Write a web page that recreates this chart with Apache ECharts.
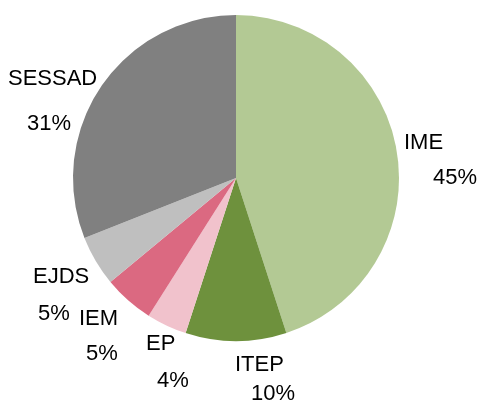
<!DOCTYPE html>
<html>
<head>
<meta charset="utf-8">
<style>
  html, body { margin: 0; padding: 0; background: #ffffff; }
  #chart { width: 477px; height: 401px; }
</style>
<script src="https://cdn.jsdelivr.net/npm/echarts@6/dist/echarts.min.js"></script>
</head>
<body>
<div id="chart"></div>
<script>
// Répartition par type de structure (en %)
const categories = ['IME', 'ITEP', 'EP', 'IEM', 'EJDS', 'SESSAD'];
const values = [45, 10, 4, 5, 5, 31];
const colors = ['#b3c994', '#6e913d', '#f1c2cc', '#db6981', '#bfbfbf', '#808080'];

// Label placement: top-left corner of the name line, shift of the value line, line spacing
const labelAnchor = [[404, 134], [235, 356], [146, 335], [79, 310], [33, 268], [8, 70]];
const valueShift = [29, 16, 11, 7, 5, 19];
const lineGap = [35, 29, 37, 35, 37, 45];

const FONT = '"Liberation Sans", Arial, sans-serif';
const FONT_SIZE = 22;

const chart = echarts.init(document.getElementById('chart'), null, { renderer: 'canvas' });

const data = categories.map((name, i) => ({
  name: name,
  value: values[i],
  itemStyle: { color: colors[i] },
  label: {
    rich: {
      n: { fontFamily: FONT, fontSize: FONT_SIZE, color: '#000', lineHeight: lineGap[i] },
      v: { fontFamily: FONT, fontSize: FONT_SIZE, color: '#000', lineHeight: lineGap[i], padding: [0, 0, 0, valueShift[i]] }
    }
  }
}));

chart.setOption({
  animation: false,
  series: [{
    type: 'pie',
    center: [236, 178],
    radius: [0, 163],
    startAngle: 90,
    clockwise: true,
    avoidLabelOverlap: false,
    itemStyle: { borderWidth: 0 },
    label: {
      show: true,
      position: 'outside',
      formatter: p => '{n|' + p.name + '}\n{v|' + p.value + '%}',
      align: 'left'
    },
    labelLine: { show: false },
    emphasis: { disabled: true },
    labelLayout: params => {
      const i = params.dataIndex;
      const L = lineGap[i];
      return {
        x: labelAnchor[i][0],
        y: labelAnchor[i][1] - (L / 2 - 8.5),
        align: 'left',
        verticalAlign: 'top'
      };
    },
    data: data
  }]
});
</script>
</body>
</html>
